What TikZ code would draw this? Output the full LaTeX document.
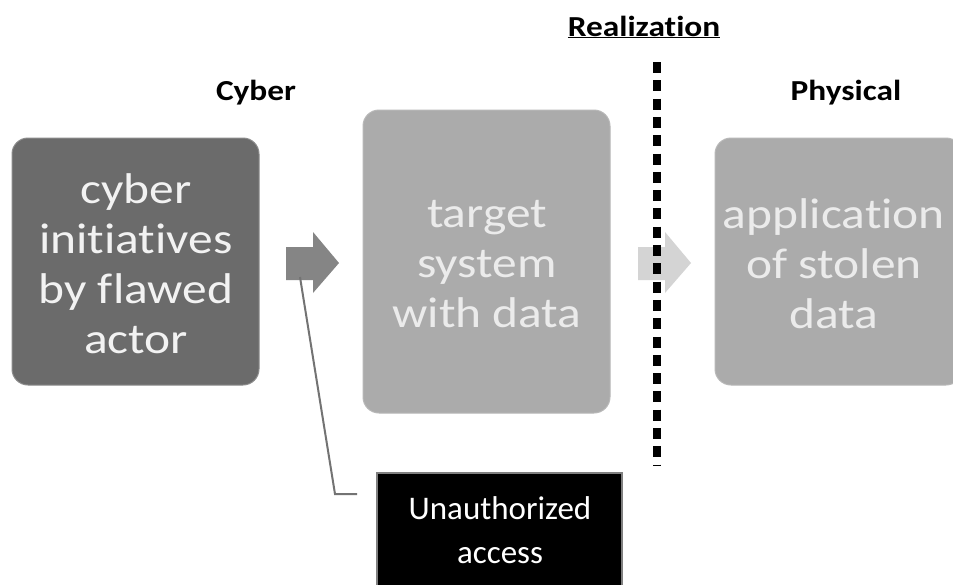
\documentclass[tikz,border=0pt]{standalone}
\usepackage{fontspec}
\setmainfont{Carlito}[Ligatures=NoCommon]
\newfontfamily\widefont{Carlito}[Ligatures=NoCommon, FakeStretch=1.15]
\begin{document}
\begin{tikzpicture}[x=1pt,y=-1pt,
  stepbox/.style={rounded corners=16pt, line width=1pt},
  boxtext/.style={align=center, font=\widefont\fontsize{43}{50}\selectfont},
  heading/.style={font=\widefont\fontsize{29}{32}\selectfont\bfseries, text=black},
  arrowfill/.style={draw=none}
]
\useasboundingbox (0,0) rectangle (953,584);
\fill[white] (0,0) rectangle (953,584);
\begin{scope}
\clip (0,0) rectangle (953,584);
% boxes
\draw[stepbox, fill=black!58, draw=black!45] (12,138) rectangle (259,385);
\draw[stepbox, fill=black!33, draw=black!28] (363,110) rectangle (610,413);
\draw[stepbox, fill=black!33, draw=black!28] (715,138) rectangle (962,385);
\node[boxtext, text=white!95!black] (b1) at (136,264) {cyber\\initiatives\\by flawed\\actor};
\node[boxtext, text=white!92!black] (b2) at (487,264) {target\\system\\with data};
\node[boxtext, text=white!92!black] (b3) at (834,264) {application\\of stolen\\data};
% arrows
\fill[black!48, arrowfill] (286,247) -- (313,247) -- (313,232) -- (339,263) -- (313,293) -- (313,280) -- (286,280) -- cycle;
\coordinate (a1) at (300,277);
\fill[black!17, arrowfill] (638,247) -- (665,247) -- (665,232) -- (691,263) -- (665,293) -- (665,280) -- (638,280) -- cycle;
% realization line
\draw[line width=8pt, dash pattern=on 11pt off 7.3pt] (657,62) -- (657,466);
% labels
\node[heading] (cy) at (256,93) {Cyber};
\node[heading] (ph) at (846,93) {Physical};
\node[heading] (re) at (644,27) {\underline{Realization}};
% unauthorized access
\draw[fill=black, draw=black!50, line width=1.5pt] (377,473) rectangle (622,600);
\node[align=center, text=white, font=\fontsize{33}{44}\selectfont] (ua) at (500,530) {Unauthorized\\access};
\coordinate (c1) at (335,494);
\coordinate (c2) at (357,494);
\draw[black!55, line width=2pt] (a1) -- (c1) -- (c2);
\end{scope}
\end{tikzpicture}
\end{document}
